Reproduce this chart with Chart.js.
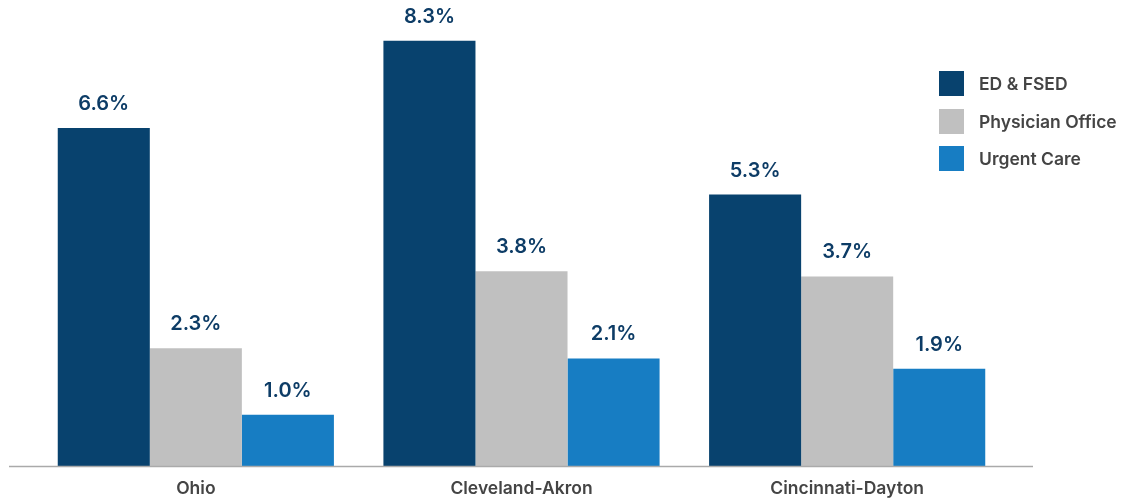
<!DOCTYPE html>
<html>
<head>
<meta charset="utf-8">
<script src="https://cdn.jsdelivr.net/npm/chart.js@4"></script>
<style>
  body { margin: 0; background: #fff; font-family: Inter, "Noto Sans", sans-serif; }
  .wrap { position: relative; width: 1125px; height: 499px; }
  #legend { position: absolute; left: 939px; top: 71px; }
  .item { display: flex; align-items: center; height: 25px; margin-bottom: 12.5px; }
  .box { width: 25px; height: 25px; margin-right: 15px; }
  .item span { font-size: 17.5px; font-weight: 600; color: #444; }
</style>
</head>
<body>
<div class="wrap">
  <canvas id="chart" width="1125" height="499"></canvas>
  <div id="legend"></div>
</div>
<script>
// Chart data
const regions = ["Ohio", "Cleveland-Akron", "Cincinnati-Dayton"]
const seriesNames = ["ED & FSED", "Physician Office", "Urgent Care"]
const edFsed = [6.6, 8.3, 5.3]
const physicianOffice = [2.3, 3.8, 3.7]
const urgentCare = [1.0, 2.1, 1.9]
const seriesColors = ["#08426e", "#c0c0c0", "#177dc3"]

// value labels above bars + wide baseline
const barLabels = {
  id: "barLabels",
  afterDatasetsDraw(chart) {
    const ctx = chart.ctx
    const area = chart.chartArea
    ctx.save()
    ctx.strokeStyle = "#aaaaaa"
    ctx.lineWidth = 1.5
    ctx.beginPath()
    ctx.moveTo(area.left - 24, area.bottom + 0.5)
    ctx.lineTo(area.right + 23, area.bottom + 0.5)
    ctx.stroke()

    ctx.fillStyle = "#0d3c66"
    ctx.font = "600 20px Inter, 'Noto Sans', sans-serif"
    ctx.textAlign = "center"
    ctx.textBaseline = "bottom"
    chart.data.datasets.forEach((ds, i) => {
      chart.getDatasetMeta(i).data.forEach((bar, j) => {
        ctx.fillText(ds.data[j].toFixed(1) + "%", bar.x, bar.y - 14)
      })
    })
    ctx.restore()
  },
}

const seriesData = [edFsed, physicianOffice, urgentCare]

new Chart(document.getElementById("chart"), {
  type: "bar",
  data: {
    labels: regions,
    datasets: seriesNames.map((name, i) => ({
      label: name,
      data: seriesData[i],
      backgroundColor: seriesColors[i],
      borderWidth: 0,
      barPercentage: 1,
      categoryPercentage: 0.848,
    })),
  },
  options: {
    responsive: false,
    animation: false,
    layout: { padding: { left: 33, right: 115, top: 5, bottom: -12 } },
    plugins: {
      legend: { display: false },
      tooltip: { enabled: false },
    },
    scales: {
      x: {
        grid: { display: false, drawTicks: false },
        border: { display: false },
        ticks: {
          padding: 12,
          color: "#444",
          font: { family: "Inter, 'Noto Sans', sans-serif", size: 17.5, weight: "600" },
        },
      },
      y: {
        display: false,
        min: 0,
        max: 9,
      },
    },
  },
  plugins: [barLabels],
})

// html legend
const legend = document.getElementById("legend")
seriesNames.forEach((name, i) => {
  const item = document.createElement("div")
  item.className = "item"
  item.innerHTML = `<div class="box" style="background:${seriesColors[i]}"></div><span>${name}</span>`
  legend.appendChild(item)
})
</script>
</body>
</html>
